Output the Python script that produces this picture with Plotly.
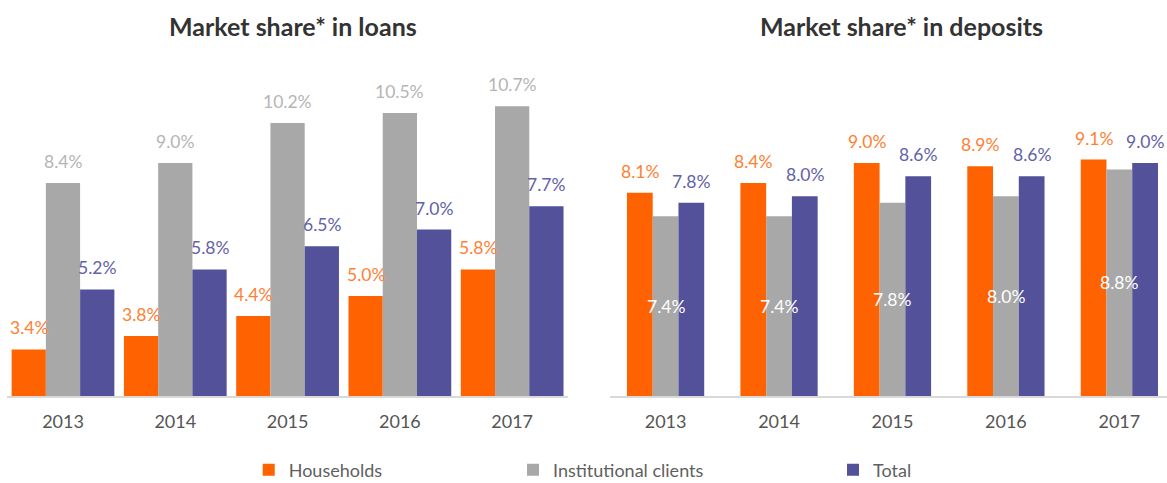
import plotly.graph_objects as go

years = [2013, 2014, 2015, 2016, 2017]
year_labels = ["2013", "2014", "2015", "2016", "2017"]

loans_households = [3.4, 3.8, 4.4, 5.0, 5.8]
loans_institutional = [8.4, 9.0, 10.2, 10.5, 10.7]
loans_total = [5.2, 5.8, 6.5, 7.0, 7.7]

dep_households = [8.1, 8.4, 9.0, 8.9, 9.1]
dep_institutional = [7.4, 7.4, 7.8, 8.0, 8.8]
dep_total = [7.8, 8.0, 8.6, 8.6, 9.0]

series_names = ["Households", "Institutional clients", "Total"]
bar_colors = ["#FF6200", "#A8A8A8", "#525199"]
label_colors = ["#FF8033", "#B5B5B5", "#6262A8"]

FONT = "Lato"
W, H = 1167, 483
Y_MIN, Y_MAX = 2, 12

fig = go.Figure()
annotations = []


def fmt(v):
    return f"{v:.1f}%"


def add_panel(series, xaxis, yaxis, bw, inside_idx=None, show_legend=False):
    for i, (vals, name) in enumerate(zip(series, series_names)):
        off = (i - 1.5) * bw
        inside = (inside_idx == i)
        fig.add_trace(go.Bar(
            x=years, y=vals, name=name,
            width=[bw] * len(years), offset=[off] * len(years),
            marker=dict(color=bar_colors[i], line=dict(width=0)),
            xaxis=xaxis, yaxis=yaxis,
            showlegend=show_legend,
            legend=["legend", "legend2", "legend3"][i],
            hoverinfo="skip",
        ))
        for x, v in zip(years, vals):
            if inside:
                annotations.append(dict(
                    x=x + off + bw / 2, y=(Y_MIN + v) / 2, xref=xaxis, yref=yaxis,
                    text=fmt(v), showarrow=False, yanchor="middle", xanchor="center",
                    font=dict(family=FONT, size=17.5, color="white"),
                ))
            else:
                annotations.append(dict(
                    x=x + off + bw / 2, y=v, xref=xaxis, yref=yaxis,
                    text=fmt(v), showarrow=False, yanchor="bottom",
                    xanchor="center", yshift=9,
                    font=dict(family=FONT, size=17.5, color=label_colors[i]),
                ))


add_panel([loans_households, loans_institutional, loans_total], "x", "y", 0.305, show_legend=True)
add_panel([dep_households, dep_institutional, dep_total], "x2", "y2", 0.227, inside_idx=1)

annotations.append(dict(x=292.5 / W, y=1 - 26 / H, xref="paper", yref="paper",
                        text="<b>Market share* in loans</b>", showarrow=False,
                        xanchor="center", yanchor="middle",
                        font=dict(family=FONT, size=25, color="#333333")))
annotations.append(dict(x=901 / W, y=1 - 26 / H, xref="paper", yref="paper",
                        text="<b>Market share* in deposits</b>", showarrow=False,
                        xanchor="center", yanchor="middle",
                        font=dict(family=FONT, size=25, color="#333333")))

y_dom = [(H - 396) / H, (H - 63) / H]
axis_common = dict(showline=True, linecolor="#D9D9D9", linewidth=1.5, ticks="",
                   showgrid=False, zeroline=False, tickvals=years, ticktext=year_labels,
                   ticklabelstandoff=9, automargin=False,
                   tickfont=dict(family=FONT, size=18, color="#555555"), fixedrange=True)

legend_common = dict(orientation="h", yanchor="middle", y=(H - 470) / H, xanchor="left",
                     font=dict(family=FONT, size=18, color="#5F5F5F"),
                     bgcolor="rgba(0,0,0,0)", borderwidth=0, itemclick=False)

fig.update_layout(
    width=W, height=H,
    margin=dict(l=0, r=0, t=0, b=0, autoexpand=False),
    paper_bgcolor="white", plot_bgcolor="white",
    barmode="overlay",
    xaxis=dict(domain=[6.85 / W, 568.3 / W], range=[2012.5, 2017.5], anchor="y", **axis_common),
    yaxis=dict(domain=y_dom, range=[Y_MIN, Y_MAX], visible=False, anchor="x", automargin=False),
    xaxis2=dict(domain=[610 / W, 1.0], range=[2012.51, 2017.42], anchor="y2", **axis_common),
    yaxis2=dict(domain=y_dom, range=[Y_MIN, Y_MAX], visible=False, anchor="x2", automargin=False),
    legend=dict(x=(290.7 - 42) / W, **legend_common),
    legend2=dict(x=(555 - 42) / W, **legend_common),
    legend3=dict(x=(875 - 42) / W, **legend_common),
    annotations=annotations,
    font=dict(family=FONT),
)

fig.write_html(
    "out.html",
    config={"displayModeBar": False},
    post_script="document.body.style.margin='0';document.body.style.padding='0';",
)
